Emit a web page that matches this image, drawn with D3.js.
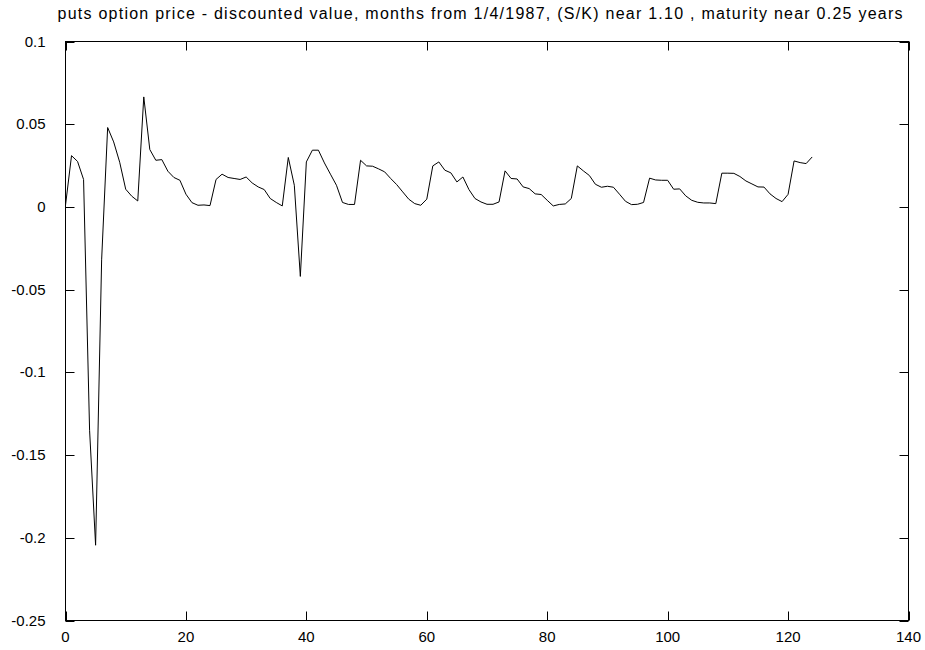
<!DOCTYPE html>
<html lang="en">
<head>
    <meta charset="UTF-8">
    <title>puts option price</title>
    <script src="https://cdnjs.cloudflare.com/ajax/libs/d3/7.8.5/d3.min.js"></script>
    <style>
      body { margin: 0; background: #fff; }
      text { font-family: "Liberation Sans", Arial, sans-serif; fill: #000; }
    </style>
</head>
<body>
<svg id="chart" width="925" height="650"></svg>
<script>
    // months from 1/4/1987
    const months = d3.range(0, 125);

    // put price minus discounted value
    const values = [
      0.001, 0.031, 0.0275, 0.0166, -0.135, -0.2045, -0.032, 0.048, 0.0393, 0.027,
      0.0107, 0.0065, 0.0036, 0.0665, 0.0347, 0.0282, 0.0286, 0.0216, 0.0178, 0.0161,
      0.0077, 0.0026, 0.001, 0.0012, 0.0008, 0.0166, 0.0198, 0.0178, 0.0172, 0.0166,
      0.0181, 0.0145, 0.0121, 0.0105, 0.0051, 0.0027, 0.0006, 0.0299, 0.0131, -0.042,
      0.0272, 0.0343, 0.0343, 0.0266, 0.0198, 0.0131, 0.0027, 0.0015, 0.0015, 0.0282,
      0.0248, 0.0246, 0.023, 0.0212, 0.0172, 0.0135, 0.0091, 0.0047, 0.002, 0.001,
      0.0047, 0.0248, 0.0272, 0.0222, 0.0206, 0.0151, 0.0181, 0.0105, 0.0051, 0.003,
      0.0016, 0.0016, 0.003, 0.0218, 0.0172, 0.0169, 0.0121, 0.0111, 0.0079, 0.0075,
      0.004, 0.0006, 0.0015, 0.0018, 0.0051, 0.0248, 0.0218, 0.019, 0.0137, 0.0119,
      0.0125, 0.0119, 0.0077, 0.0034, 0.0014, 0.0016, 0.0027, 0.0174, 0.0163, 0.0161,
      0.0161, 0.0107, 0.0109, 0.0067, 0.004, 0.0028, 0.0024, 0.0024, 0.002, 0.0204,
      0.0204, 0.0203, 0.0184, 0.0157, 0.0139, 0.0121, 0.012, 0.0079, 0.0051, 0.0032,
      0.0076, 0.0278, 0.0268, 0.0262, 0.0302
    ];

    const xTicks = [0, 20, 40, 60, 80, 100, 120, 140];
    const yTicks = [-0.25, -0.2, -0.15, -0.1, -0.05, 0, 0.05, 0.1];

    const title = 'puts option price - discounted value, months from 1/4/1987, (S/K) near 1.10 , maturity near 0.25 years';

    const plotL = 65.5, plotR = 908.5, plotT = 41.5, plotB = 620.5;
    const tickLen = 9;

    const svg = d3.select('#chart');

    const x = d3.scaleLinear().domain([0, 140]).range([plotL, plotR]);
    const y = d3.scaleLinear().domain([-0.25, 0.1]).range([plotB, plotT]);

    // frame
    svg.append('rect')
      .attr('x', plotL).attr('y', plotT)
      .attr('width', plotR - plotL).attr('height', plotB - plotT)
      .attr('fill', 'none').attr('stroke', '#000').attr('stroke-width', 1);

    // inward ticks on all four sides (gnuplot style)
    const ticks = svg.append('g').attr('stroke', '#000').attr('stroke-width', 1);
    xTicks.forEach(t => {
      const px = Math.round(x(t)) + 0.5;
      ticks.append('line').attr('x1', px).attr('x2', px).attr('y1', plotB).attr('y2', plotB - tickLen);
      ticks.append('line').attr('x1', px).attr('x2', px).attr('y1', plotT).attr('y2', plotT + tickLen);
    });
    yTicks.forEach(t => {
      const py = Math.round(y(t)) + 0.5;
      ticks.append('line').attr('x1', plotL).attr('x2', plotL + tickLen).attr('y1', py).attr('y2', py);
      ticks.append('line').attr('x1', plotR).attr('x2', plotR - tickLen).attr('y1', py).attr('y2', py);
    });

    // tick labels
    svg.append('g').selectAll('text')
      .data(xTicks).enter().append('text')
      .attr('x', d => x(d))
      .attr('y', plotB + 21)
      .attr('text-anchor', 'middle')
      .attr('font-size', 15)
      .text(d => d);

    svg.append('g').selectAll('text')
      .data(yTicks).enter().append('text')
      .attr('x', plotL - 20)
      .attr('y', d => y(d) + 5)
      .attr('text-anchor', 'end')
      .attr('font-size', 15)
      .text(d => d);

    // title
    svg.append('text')
      .attr('x', 480)
      .attr('y', 19)
      .attr('text-anchor', 'middle')
      .attr('font-size', 16)
      .attr('textLength', 845)
      .attr('lengthAdjust', 'spacing')
      .text(title);

    // the series
    const line = d3.line()
      .x((d, i) => x(months[i]))
      .y(d => y(d));

    svg.append('path')
      .datum(values)
      .attr('d', line)
      .attr('fill', 'none')
      .attr('stroke', '#000')
      .attr('stroke-width', 1);
</script>
</body>
</html>
